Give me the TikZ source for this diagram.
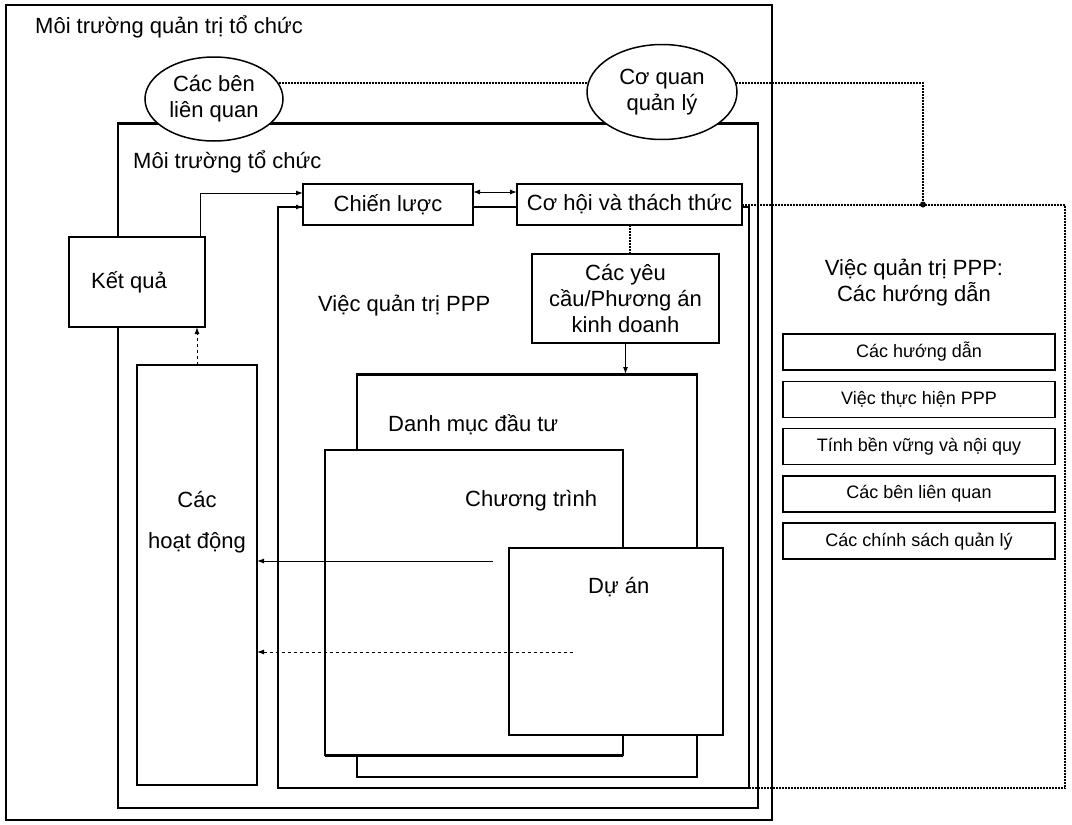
\documentclass[tikz,border=0pt]{standalone}
\usepackage{fontspec}
\setmainfont{Liberation Sans}
\usetikzlibrary{arrows.meta,shapes.geometric}

\begin{document}
\begin{tikzpicture}[x=1pt,y=-1pt,
    font=\fontsize{22}{26}\selectfont,
    >={Latex[length=7pt,width=5pt]},
    frame/.style={draw,line width=1.5pt,fill=white,anchor=north west,
      inner sep=0pt,outer sep=0pt},
    box/.style={frame,align=center},
    oval/.style={draw,ellipse,line width=1.5pt,fill=white,align=center,inner sep=0pt},
    guide/.style={frame,font=\fontsize{18}{21}\selectfont,
      minimum width=272pt,minimum height=36pt},
    lbl/.style={anchor=base west,inner sep=0pt},
    thickedge/.style={line width=3pt},
    conn/.style={line width=1pt,->},
    dotline/.style={line width=2pt,densely dotted}]
  \useasboundingbox (0,0) rectangle (1072,825);

  % nested frames
  \node[frame,minimum width=766pt,minimum height=815pt] (mtqt) at (6,5) {};
  \node[lbl] (mtqtlbl) at (35,33) {Môi trường quản trị tổ chức};
  \node[frame,minimum width=640pt,minimum height=685pt] (mttc) at (118,123) {};
  \draw[thickedge] (mttc.north west) -- (mttc.north east);
  \node[lbl] (mttclbl) at (133,168) {Môi trường tổ chức};
  \node[frame,minimum width=471pt,minimum height=581pt] (qtppp) at (278,207) {};
  \node[lbl] (qtppplbl) at (318,311) {Việc quản trị PPP};
  \node[frame,minimum width=340pt,minimum height=403pt] (dmdt) at (357,374) {};
  \draw[thickedge] (dmdt.north west) -- (dmdt.north east);
  \node[lbl] (dmdtlbl) at (388,431) {Danh mục đầu tư};
  \node[frame,minimum width=298pt,minimum height=305pt] (ctrinh) at (325,450) {};
  \draw[thickedge] (ctrinh.south west) -- (ctrinh.south east);
  \node[lbl] (ctrinhlbl) at (465,506) {Chương trình};
  \node[frame,minimum width=214pt,minimum height=187pt] (duan) at (509,548) {};
  \node[lbl] (duanlbl) at (588,593) {Dự án};

  % boxes
  \node[box,minimum width=136pt,minimum height=90pt] (ketqua) at (69,237) {Kết quả\hspace*{16pt}};
  \node[box,minimum width=120pt,minimum height=420pt] (hoatdong) at (137,365) {};
  \node[align=center] (hoatdongtxt) at (197,522) {Các\\[15pt]hoạt động};
  \node[box,minimum width=170pt,minimum height=41pt] (chienluoc) at (303,184) {Chiến lược};
  \node[box,minimum width=225pt,minimum height=41pt] (cohoi) at (517,184) {Cơ hội và thách thức};
  \node[box,minimum width=187pt,minimum height=89pt] (yeucau) at (532,254)
    {Các yêu\\cầu/Phương án\\kinh doanh};

  \node[oval,minimum width=138pt,minimum height=84pt] (cbl) at (214,99) {Các bên\\liên quan};
  \node[oval,minimum width=150pt,minimum height=95pt] (cql) at (662,92) {Cơ quan\\quản lý};

  % guidelines panel
  \node[align=center] (hdtitle) at (914,283) {Việc quản trị PPP:\\Các hướng dẫn};
  \foreach \t [count=\i from 0] in {Các hướng dẫn,Việc thực hiện PPP,
      Tính bền vững và nội quy,Các bên liên quan,Các chính sách quản lý}
    \node[guide] (g\i) at ({783},{334+47.3*\i}) {\t};

  \coordinate (jn) at (923,204.5);
  \coordinate (pnlse) at (1065,788);
  \coordinate (prgout) at (493,561);
  \coordinate (prjout) at (573,652);

  % connectors
  \draw[dotline] (cbl.14) -- (cbl.14 -| cql.173);
  \draw[dotline] (cql.7) -| (jn);
  \fill (jn) circle (3pt);
  \draw[dotline] (cohoi.east) -| (pnlse) -- (pnlse -| qtppp.east);
  \draw[conn] ([xshift=-5pt]ketqua.north east) |- ([yshift=-9pt]chienluoc.north west);
  \draw[conn] (qtppp.north west) -- (qtppp.north west -| chienluoc.west);
  \draw[conn,<->] ([yshift=-8pt]chienluoc.north east) -- ([yshift=-8pt]cohoi.north west);
  \draw[line width=2.6pt] (chienluoc.east |- qtppp.north) -- (cohoi.west |- qtppp.north);
  \draw[dotline] (cohoi.south) -- (cohoi.south |- yeucau.north);
  \draw[conn] (yeucau.south) -- (yeucau.south |- dmdt.north);
  \draw[conn,dashed] (hoatdong.north) -- (hoatdong.north |- ketqua.south);
  \draw[conn] (prgout) -- (prgout -| hoatdong.east);
  \draw[conn,dashed] (prjout) -- (prjout -| hoatdong.east);
\end{tikzpicture}
\end{document}
